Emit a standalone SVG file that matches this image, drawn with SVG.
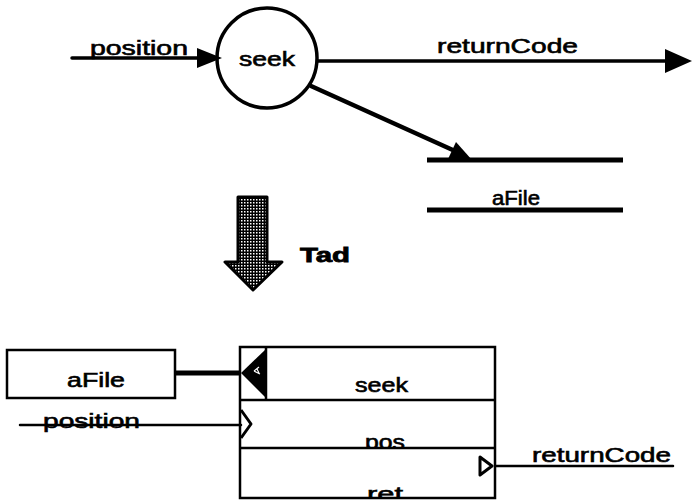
<svg xmlns="http://www.w3.org/2000/svg" width="692" height="504" viewBox="0 0 692 504">
  <style>
    .lbl { font-family: "Liberation Sans", Arial, sans-serif; font-size: 20px; fill: #000; stroke: #000; stroke-width: 0.6px; }
    .bold { font-weight: bold; stroke-width: 0.8px; }
    .ln { stroke: #000; fill: none; stroke-linecap: round; }
    .box { stroke: #000; fill: #fff; stroke-width: 2.5; }
  </style>
  <defs>
    <pattern id="stipple" width="3" height="3" patternUnits="userSpaceOnUse">
      <rect width="3" height="3" fill="#000"/>
      <rect x="1" y="1" width="1.5" height="1.5" fill="#fff"/>
    </pattern>
    <clipPath id="clipPos"><rect x="241" y="401" width="253" height="46"/></clipPath>
    <clipPath id="clipRet"><rect x="241" y="449" width="253" height="48"/></clipPath>
  </defs>
  <rect width="692" height="504" fill="#fff"/>

  <!-- data flow view -->
  <g id="connectors-top">
    <line class="ln" x1="72" y1="58" x2="205" y2="58" stroke-width="3.5"/>
    <polygon points="222,58 197,48 197,68" fill="#000"/>
    <line class="ln" x1="318" y1="61" x2="672" y2="61" stroke-width="3.5"/>
    <polygon points="692,61 665,49 665,73" fill="#000"/>
    <line class="ln" x1="311" y1="86" x2="455" y2="151" stroke-width="4.5"/>
    <polygon points="472,160 448,159 456,142" fill="#000"/>
    <text class="lbl" x="90" y="55" textLength="98" lengthAdjust="spacingAndGlyphs">position</text>
    <text class="lbl" x="437" y="53" textLength="141" lengthAdjust="spacingAndGlyphs">returnCode</text>
  </g>

  <g id="seek-process">
    <circle cx="267" cy="58" r="50" fill="none" stroke="#000" stroke-width="3.5"/>
    <text class="lbl" x="239" y="66" textLength="56" lengthAdjust="spacingAndGlyphs">seek</text>
  </g>

  <g id="aFile-store">
    <line x1="427" y1="160" x2="623" y2="160" stroke="#000" stroke-width="5"/>
    <line x1="427" y1="210" x2="623" y2="210" stroke="#000" stroke-width="5"/>
    <text class="lbl" x="492" y="205" textLength="48" lengthAdjust="spacingAndGlyphs">aFile</text>
  </g>

  <!-- transformation arrow -->
  <g id="tad-arrow">
    <polygon points="238,197 267,197 267,262 282,262 253,290 225,262 238,262" fill="url(#stipple)" stroke="#000" stroke-width="3" stroke-linejoin="round"/>
    <text class="lbl bold" x="300" y="262" textLength="50" lengthAdjust="spacingAndGlyphs">Tad</text>
  </g>

  <!-- structure chart view -->
  <g id="aFile-box">
    <rect class="box" x="7" y="350" width="168" height="48"/>
    <text class="lbl" x="67" y="387" textLength="58" lengthAdjust="spacingAndGlyphs">aFile</text>
  </g>

  <g id="seek-module">
    <rect class="box" x="240" y="347" width="255" height="151"/>
    <line x1="240" y1="400" x2="495" y2="400" stroke="#000" stroke-width="2.5"/>
    <line x1="240" y1="448" x2="495" y2="448" stroke="#000" stroke-width="2.5"/>
    <line x1="266" y1="347" x2="266" y2="400" stroke="#000" stroke-width="2.5"/>
    <polygon points="241,373 266,349 266,398" fill="#000"/>
    <path d="M254,371 l5,-4 M254,371 l6,3 M257,369 l2,4" stroke="#fff" stroke-width="1.2" fill="none"/>
    <text class="lbl" x="355" y="392" textLength="53" lengthAdjust="spacingAndGlyphs">seek</text>
    <polyline points="241,410 251,424 241,438" fill="none" stroke="#000" stroke-width="3" stroke-linejoin="round"/>
    <text class="lbl" x="365" y="449" textLength="40" lengthAdjust="spacingAndGlyphs" clip-path="url(#clipPos)">pos</text>
    <polygon points="480,457 492,466 480,475" fill="none" stroke="#000" stroke-width="3" stroke-linejoin="round"/>
    <text class="lbl" x="367" y="501" textLength="36" lengthAdjust="spacingAndGlyphs" clip-path="url(#clipRet)">ret</text>
  </g>

  <g id="connectors-bottom">
    <line x1="175" y1="373" x2="241" y2="373" stroke="#000" stroke-width="5"/>
    <line class="ln" x1="20" y1="425" x2="241" y2="425" stroke-width="2.5"/>
    <text class="lbl" x="43" y="428" textLength="97" lengthAdjust="spacingAndGlyphs">position</text>
    <line class="ln" x1="495" y1="466" x2="673" y2="466" stroke-width="2.5"/>
    <text class="lbl" x="532" y="462" textLength="139" lengthAdjust="spacingAndGlyphs">returnCode</text>
  </g>
</svg>
